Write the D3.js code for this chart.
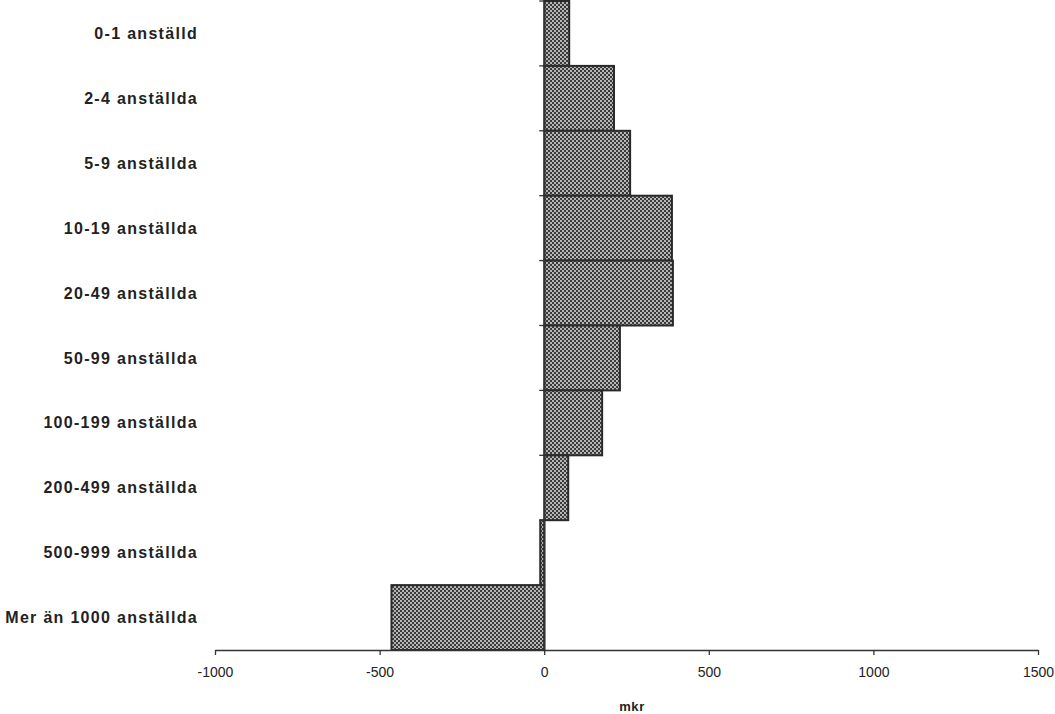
<!DOCTYPE html>
<html><head><meta charset="utf-8">
<script src="https://cdn.jsdelivr.net/npm/d3@7"></script>
<style>body{margin:0;background:#fff}svg{display:block}</style>
</head><body><svg id="c" width="1055" height="714"></svg>
<script>
const categories = ["0-1 anställd","2-4 anställda","5-9 anställda","10-19 anställda","20-49 anställda","50-99 anställda","100-199 anställda","200-499 anställda","500-999 anställda","Mer än 1000 anställda"];
const values = [76, 212, 261, 388, 391, 230, 176, 73, -12, -464];
const xTicks = [-1000, -500, 0, 500, 1000, 1500];
const axisLabel = "mkr";

const svg = d3.select("#c");
const m = {left:215, right:1038, top:1, bottom:650};
const x = d3.scaleLinear().domain([-1000,1500]).range([m.left, m.right]);
const y = d3.scaleBand().domain(categories).range([m.top, m.bottom]).padding(0);

const defs = svg.append("defs");
const pat = defs.append("pattern").attr("id","dots").attr("patternUnits","userSpaceOnUse")
  .attr("width",4).attr("height",4);
pat.append("rect").attr("width",4).attr("height",4).attr("fill","#3a3a3a");
pat.append("circle").attr("cx",1).attr("cy",1).attr("r",0.9).attr("fill","#f2f2f2");
pat.append("circle").attr("cx",3).attr("cy",3).attr("r",0.9).attr("fill","#f2f2f2");

svg.append("g").selectAll("rect").data(values).join("rect")
  .attr("x", d => x(Math.min(0,d)))
  .attr("y", (d,i) => y(categories[i]))
  .attr("width", d => Math.abs(x(d)-x(0)))
  .attr("height", y.bandwidth())
  .attr("fill","url(#dots)")
  .attr("stroke","#2a2a2a").attr("stroke-width",2);

const font = "Liberation Sans, Arial, sans-serif";

// x axis
const xa = svg.append("g").attr("transform",`translate(0,${m.bottom})`)
  .call(d3.axisBottom(x).tickValues(xTicks).tickSize(5).tickSizeOuter(0).tickFormat(d => String(d)));
xa.select(".domain").attr("stroke","#333").attr("stroke-width",1.5);
xa.selectAll(".tick line").attr("stroke","#333").attr("stroke-width",1.3);
xa.selectAll(".tick text").attr("font-family",font)
  .attr("font-size",14).attr("fill","#222").attr("y",17).attr("dy","0.71em");

// y axis at zero
const ya = svg.append("g").attr("transform",`translate(${x(0)},0)`)
  .call(d3.axisLeft(y).tickSize(0).tickFormat(""));
ya.select(".domain").attr("stroke","#333").attr("stroke-width",1.5);
svg.append("g").selectAll("line").data(d3.range(categories.length+1)).join("line")
  .attr("x1", x(0)-5).attr("x2", x(0))
  .attr("y1", i => m.top + i*y.step()).attr("y2", i => m.top + i*y.step())
  .attr("stroke","#333").attr("stroke-width",1.3);

// category labels
svg.append("g").selectAll("text").data(categories).join("text")
  .attr("x",198).attr("y", d => y(d)+y.bandwidth()/2)
  .attr("dy","0.35em").attr("text-anchor","end")
  .attr("font-family",font).attr("font-weight","bold")
  .attr("font-size",16).attr("letter-spacing","1.3px").attr("fill","#222").text(d=>d);

svg.append("text").attr("x",632).attr("y",711).attr("text-anchor","middle")
  .attr("font-family",font).attr("font-weight","bold")
  .attr("font-size",13).attr("letter-spacing","0.6px").attr("fill","#222").text(axisLabel);
</script></body></html>
